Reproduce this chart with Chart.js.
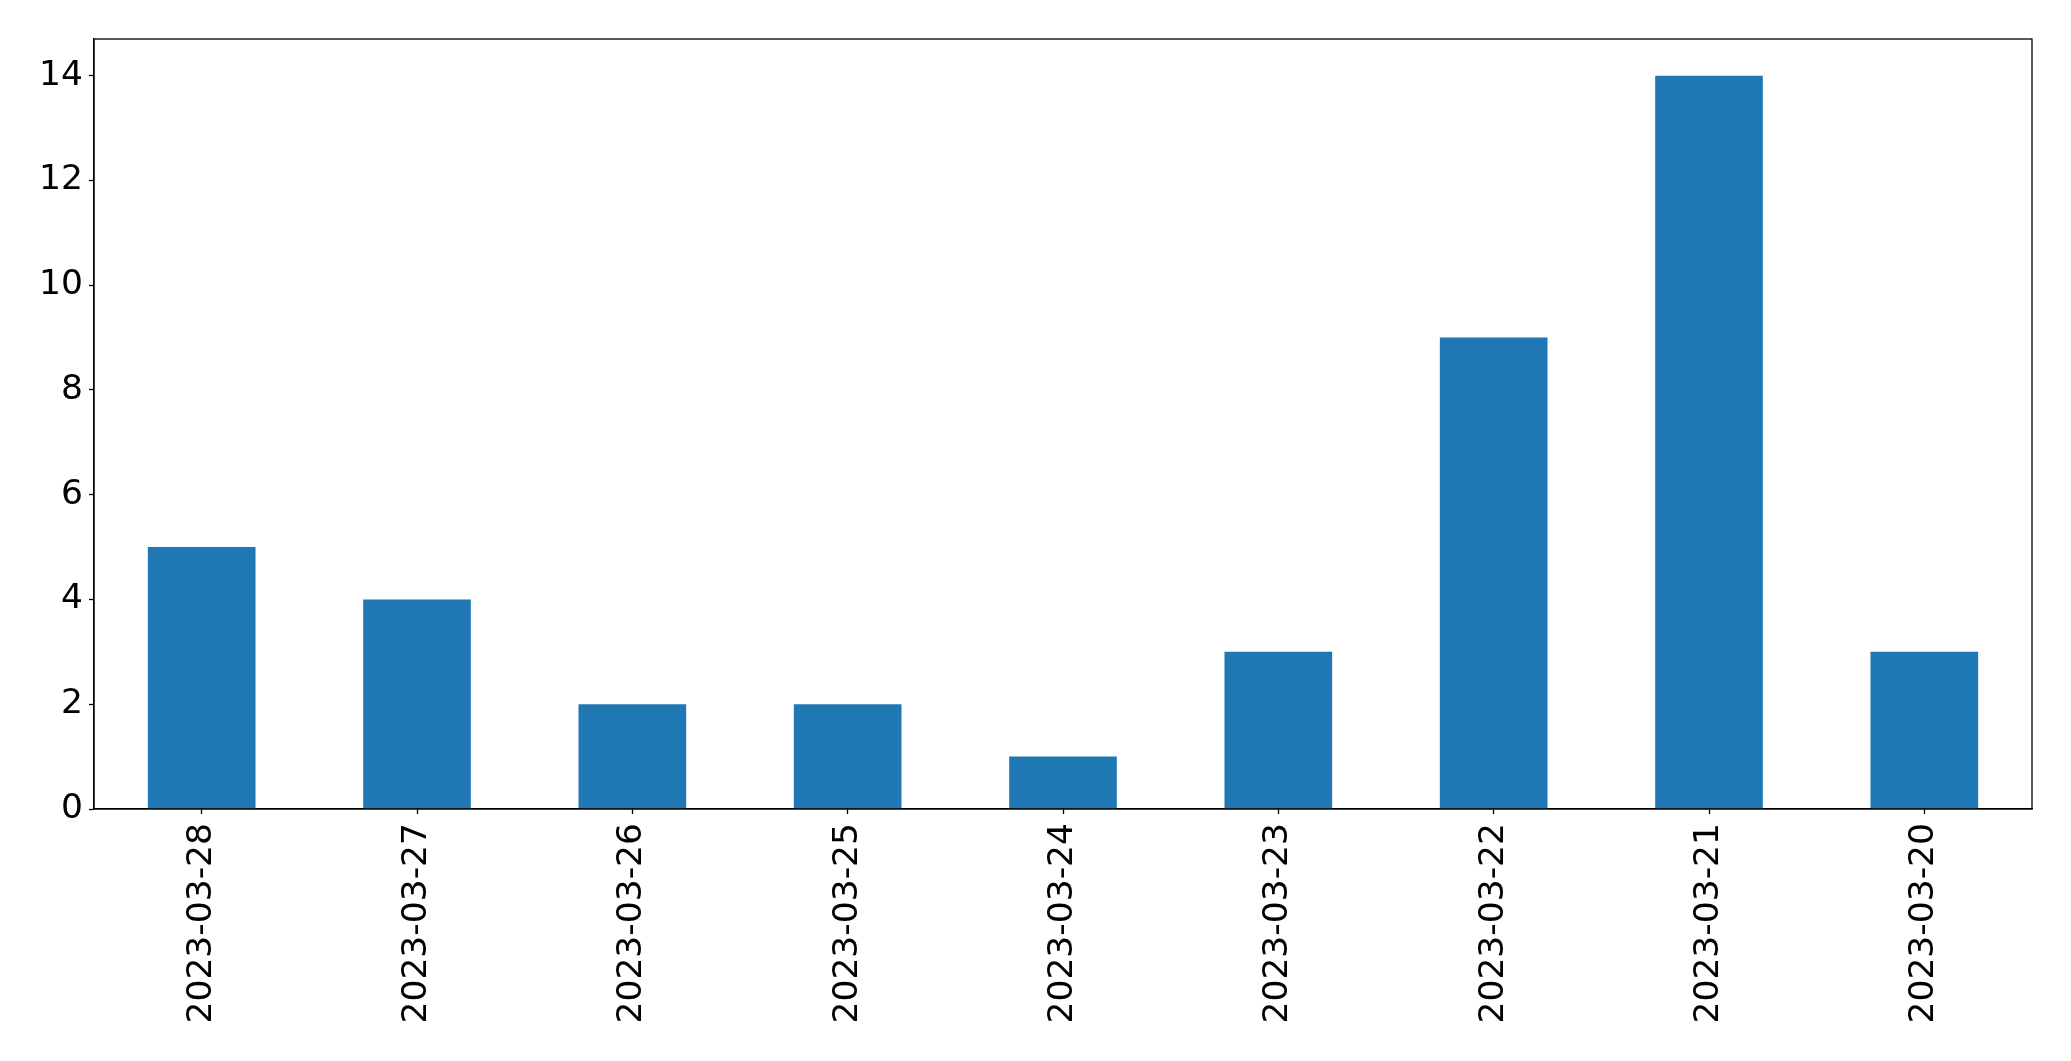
<!DOCTYPE html>
<html>
<head>
<meta charset="utf-8">
<script src="https://cdn.jsdelivr.net/npm/chart.js@4"></script>
<style>
  body { margin: 0; background: #fff; }
  canvas { display: block; }
</style>
</head>
<body>
<canvas id="chart" width="2071" height="1061"></canvas>
<script>
const dates = ['2023-03-28', '2023-03-27', '2023-03-26', '2023-03-25', '2023-03-24',
               '2023-03-23', '2023-03-22', '2023-03-21', '2023-03-20'];
const counts = [5, 4, 2, 2, 1, 3, 9, 14, 3];
const y_max = 14.7;

// box around the plot area, like matplotlib's spines
const frame_plugin = {
    id: 'frame',
    afterDraw: (chart) => {
        const a = chart.chartArea;
        const ctx = chart.ctx;
        ctx.save();
        ctx.strokeStyle = '#000';
        ctx.lineWidth = 1.3;
        ctx.strokeRect(a.left, a.top, a.right - a.left, a.bottom - a.top);
        ctx.restore();
    }
};

const tick_font = { family: 'DejaVu Sans', size: 34.5 };

new Chart(document.getElementById('chart'), {
    type: 'bar',
    data: {
        labels: dates,
        datasets: [{
            data: counts,
            backgroundColor: '#1f77b4',
            borderWidth: 0,
            categoryPercentage: 1.0,
            barPercentage: 0.5
        }]
    },
    options: {
        responsive: false,
        animation: false,
        layout: { padding: { top: 39, right: 39, left: 0, bottom: 0 } },
        plugins: {
            legend: { display: false },
            tooltip: { enabled: false }
        },
        scales: {
            x: {
                offset: true,
                grid: { offset: false, drawOnChartArea: false, tickLength: 5, tickColor: '#000', tickWidth: 1.3 },
                border: { display: true, color: '#000', width: 1.3 },
                ticks: { color: '#000', font: tick_font, minRotation: 90, maxRotation: 90, padding: 9, autoSkip: false },
                afterFit: (scale) => { scale.height = 1061 - 809; }
            },
            y: {
                min: 0,
                max: y_max,
                grid: { drawOnChartArea: false, tickLength: 5, tickColor: '#000', tickWidth: 1.3 },
                border: { display: true, color: '#000', width: 1.3 },
                ticks: { color: '#000', font: tick_font, stepSize: 2, includeBounds: false, padding: 6 },
                afterFit: (scale) => { scale.width = 94; }
            }
        }
    },
    plugins: [frame_plugin]
});
</script>
</body>
</html>
